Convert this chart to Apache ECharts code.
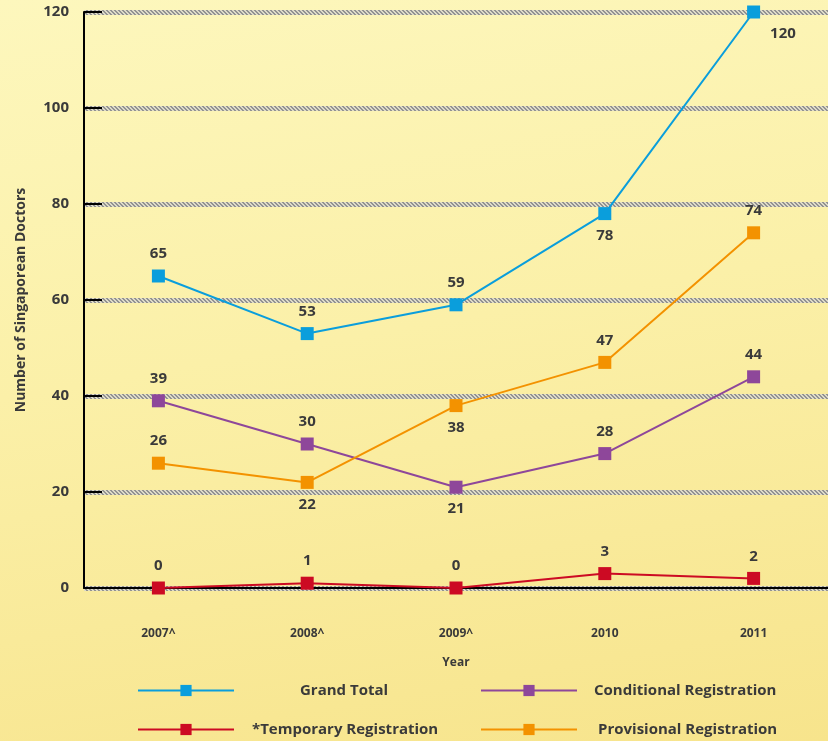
<!DOCTYPE html>
<html>
<head>
<meta charset="utf-8">
<script src="https://cdn.jsdelivr.net/npm/echarts@6/dist/echarts.min.js"></script>
<style>
  html, body { margin: 0; padding: 0; }
  #main {
    width: 828px; height: 741px;
    background: linear-gradient(170deg, #fdf7bd 0%, #fbf0a8 45%, #f7e48c 100%);
  }
</style>
</head>
<body>
<div id="main"></div>
<script>
// data
var years = ['2007^', '2008^', '2009^', '2010', '2011'];
var grandTotal = [65, 53, 59, 78, 120];
var conditional = [39, 30, 21, 28, 44];
var provisional = [26, 22, 38, 47, 74];
var temporary = [0, 1, 0, 3, 2];
var yTicks = [0, 20, 40, 60, 80, 100, 120];

var chart = echarts.init(document.getElementById('main'), null, { renderer: 'canvas' });

// hatched pattern for the grid bands
var pat = document.createElement('canvas');
pat.width = 4; pat.height = 4;
var pc = pat.getContext('2d');
pc.fillStyle = '#dedbc8';
pc.fillRect(0, 0, 4, 4);
pc.fillStyle = '#929292';
for (var i = 0; i < 4; i++) {
  pc.fillRect(i, i, 1, 1);
  pc.fillRect((i + 1) % 4, i, 1, 1);
}

var FONT = '"Open Sans", sans-serif';
var TXT = '#3a3a3a';

function labelCfg(positions) {
  return function (v, idx) {
    var p = positions[idx];
    var lab = { show: true, position: p, distance: 8 };
    if (p === 'right') {
      lab.distance = 8;
      lab.offset = [2, 22];
    }
    return { value: v, label: lab };
  };
}

function mkSeries(name, color, values, positions) {
  return {
    name: name,
    type: 'line',
    data: values.map(labelCfg(positions)),
    symbol: 'rect',
    symbolSize: 13,
    color: color,
    lineStyle: { width: 2, color: color },
    itemStyle: { color: color },
    label: {
      color: TXT,
      fontFamily: FONT,
      fontWeight: 'bold',
      fontSize: 15
    },
    emphasis: { disabled: true },
    animation: false
  };
}

function mkLegend(name, left, top, pad) {
  return {
    data: [name],
    left: left,
    top: top,
    padding: 0,
    itemWidth: 96,
    itemHeight: 14,
    selectedMode: false,
    textStyle: {
      color: TXT,
      fontFamily: FONT,
      fontWeight: 'bold',
      fontSize: 15,
      padding: [0, 0, 0, pad]
    }
  };
}

var option = {
  backgroundColor: 'transparent',
  animation: false,
  grid: { left: 84, top: 12, width: 750, bottom: 153, containLabel: false },
  legend: [
    mkLegend('Grand Total', 137, 683, 61),
    mkLegend('Conditional Registration', 480, 683, 12),
    mkLegend('*Temporary Registration', 137, 722, 13),
    mkLegend('Provisional Registration', 480, 722, 16)
  ],
  xAxis: {
    type: 'category',
    data: years,
    boundaryGap: true,
    name: 'Year',
    nameLocation: 'middle',
    nameGap: 69,
    nameTextStyle: { color: TXT, fontFamily: FONT, fontWeight: 'bold', fontSize: 12 },
    axisLine: { lineStyle: { color: '#000', width: 2 } },
    axisTick: { inside: true, length: 14, lineStyle: { color: '#000', width: 2 } },
    axisLabel: { margin: 40, color: TXT, fontFamily: FONT, fontWeight: 'bold', fontSize: 12 },
    splitLine: { show: false }
  },
  yAxis: {
    type: 'value',
    min: yTicks[0],
    max: yTicks[yTicks.length - 1],
    interval: 20,
    name: 'Number of Singaporean Doctors',
    nameLocation: 'middle',
    nameGap: 56,
    nameTextStyle: { color: TXT, fontFamily: FONT, fontWeight: 'bold', fontSize: 14 },
    axisLine: { show: true, lineStyle: { color: '#000', width: 2 } },
    axisTick: { show: true, inside: true, length: 18, lineStyle: { color: '#000', width: 2 } },
    axisLabel: { margin: 15, color: TXT, fontFamily: FONT, fontWeight: 'bold', fontSize: 15 },
    splitLine: { show: true, lineStyle: { width: 5, color: { image: pat, repeat: 'repeat' } } }
  },
  series: [
    mkSeries('Grand Total', '#0a9edc', grandTotal, ['top', 'top', 'top', 'bottom', 'right']),
    mkSeries('Conditional Registration', '#8e479a', conditional, ['top', 'top', 'bottom', 'top', 'top']),
    mkSeries('*Temporary Registration', '#cc0a23', temporary, ['top', 'top', 'top', 'top', 'top']),
    mkSeries('Provisional Registration', '#f39200', provisional, ['top', 'bottom', 'bottom', 'top', 'top'])
  ]
};

chart.setOption(option);
</script>
</body>
</html>
